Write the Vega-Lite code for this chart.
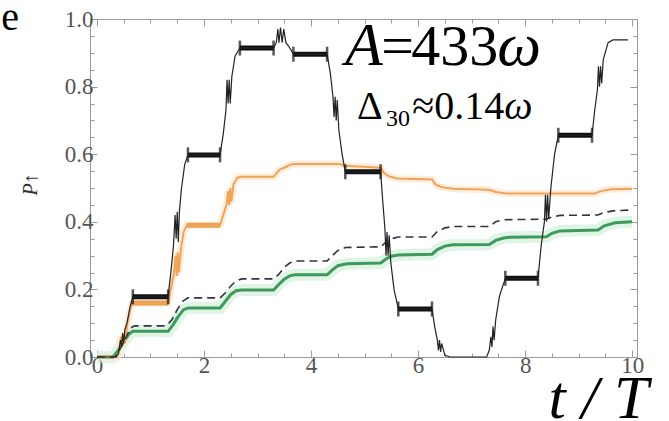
{
  "$schema": "https://vega.github.io/schema/vega-lite/v6.json",
  "width": 547,
  "height": 338,
  "autosize": "none",
  "padding": {"left": 90, "top": 19, "right": 32, "bottom": 64},
  "background": "white",
  "config": {
    "view": {"stroke": "#9a9a9a", "strokeWidth": 1},
    "text": {"font": "Liberation Serif"},
    "axis": {"labelFont": "Liberation Serif", "labelFontSize": 23, "labelColor": "#555", "domain": false, "grid": false, "tickColor": "#9a9a9a", "tickWidth": 1, "titleFont": "Liberation Serif"}
  },
  "datasets": {
    "black": [
      {"t": 0, "p": 0}, {"t": 0.35, "p": 0}, {"t": 0.4, "p": 0.01}, {"t": 0.44, "p": 0.05}, {"t": 0.46, "p": 0.03}, {"t": 0.48, "p": 0.07}, {"t": 0.5, "p": 0.04}, {"t": 0.52, "p": 0.08}, {"t": 0.56, "p": 0.1}, {"t": 0.62, "p": 0.15}, {"t": 0.67, "p": 0.178},
      {"t": 1.33, "p": 0.178}, {"t": 1.38, "p": 0.25}, {"t": 1.43, "p": 0.33}, {"t": 1.46, "p": 0.42}, {"t": 1.48, "p": 0.35}, {"t": 1.5, "p": 0.43}, {"t": 1.52, "p": 0.34}, {"t": 1.54, "p": 0.43}, {"t": 1.58, "p": 0.5}, {"t": 1.64, "p": 0.57}, {"t": 1.7, "p": 0.598},
      {"t": 2.3, "p": 0.598}, {"t": 2.36, "p": 0.66}, {"t": 2.41, "p": 0.73}, {"t": 2.43, "p": 0.82}, {"t": 2.45, "p": 0.75}, {"t": 2.47, "p": 0.82}, {"t": 2.49, "p": 0.75}, {"t": 2.52, "p": 0.83}, {"t": 2.58, "p": 0.89}, {"t": 2.67, "p": 0.914},
      {"t": 3.3, "p": 0.914}, {"t": 3.35, "p": 0.93}, {"t": 3.38, "p": 0.97}, {"t": 3.4, "p": 0.93}, {"t": 3.43, "p": 0.975}, {"t": 3.46, "p": 0.93}, {"t": 3.49, "p": 0.97}, {"t": 3.53, "p": 0.93}, {"t": 3.58, "p": 0.92}, {"t": 3.67, "p": 0.896},
      {"t": 4.3, "p": 0.896}, {"t": 4.36, "p": 0.84}, {"t": 4.41, "p": 0.77}, {"t": 4.43, "p": 0.71}, {"t": 4.45, "p": 0.77}, {"t": 4.47, "p": 0.7}, {"t": 4.49, "p": 0.76}, {"t": 4.52, "p": 0.67}, {"t": 4.58, "p": 0.6}, {"t": 4.64, "p": 0.548},
      {"t": 5.3, "p": 0.548}, {"t": 5.34, "p": 0.46}, {"t": 5.38, "p": 0.38}, {"t": 5.4, "p": 0.3}, {"t": 5.42, "p": 0.37}, {"t": 5.44, "p": 0.3}, {"t": 5.46, "p": 0.36}, {"t": 5.49, "p": 0.28}, {"t": 5.55, "p": 0.2}, {"t": 5.63, "p": 0.142},
      {"t": 6.26, "p": 0.142}, {"t": 6.31, "p": 0.09}, {"t": 6.36, "p": 0.05}, {"t": 6.38, "p": 0.02}, {"t": 6.4, "p": 0.05}, {"t": 6.42, "p": 0.015}, {"t": 6.44, "p": 0.04}, {"t": 6.5, "p": 0.005}, {"t": 6.6, "p": 0},
      {"t": 7.28, "p": 0}, {"t": 7.33, "p": 0.02}, {"t": 7.36, "p": 0.06}, {"t": 7.38, "p": 0.03}, {"t": 7.4, "p": 0.09}, {"t": 7.42, "p": 0.05}, {"t": 7.45, "p": 0.11}, {"t": 7.52, "p": 0.18}, {"t": 7.63, "p": 0.233},
      {"t": 8.24, "p": 0.233}, {"t": 8.3, "p": 0.33}, {"t": 8.36, "p": 0.4}, {"t": 8.38, "p": 0.48}, {"t": 8.4, "p": 0.4}, {"t": 8.42, "p": 0.48}, {"t": 8.44, "p": 0.41}, {"t": 8.48, "p": 0.5}, {"t": 8.55, "p": 0.6}, {"t": 8.62, "p": 0.656},
      {"t": 9.25, "p": 0.656}, {"t": 9.3, "p": 0.73}, {"t": 9.35, "p": 0.79}, {"t": 9.37, "p": 0.86}, {"t": 9.39, "p": 0.8}, {"t": 9.41, "p": 0.86}, {"t": 9.43, "p": 0.81}, {"t": 9.46, "p": 0.88}, {"t": 9.55, "p": 0.93}, {"t": 9.64, "p": 0.938}, {"t": 9.92, "p": 0.938}
    ],
    "blackPlateaus": [
      {"t1": 0.67, "t2": 1.33, "p": 0.178}, {"t1": 1.7, "t2": 2.3, "p": 0.598}, {"t1": 2.67, "t2": 3.3, "p": 0.914}, {"t1": 3.67, "t2": 4.3, "p": 0.896}, {"t1": 4.64, "t2": 5.3, "p": 0.548}, {"t1": 5.63, "t2": 6.26, "p": 0.142}, {"t1": 7.63, "t2": 8.24, "p": 0.233}, {"t1": 8.62, "t2": 9.25, "p": 0.656}
    ],
    "orangePlateaus": [
      {"t1": 0.67, "t2": 1.33, "p": 0.16}, {"t1": 1.68, "t2": 2.3, "p": 0.39}
    ],
    "orange": [
      {"t": 0, "p": 0}, {"t": 0.38, "p": 0}, {"t": 0.42, "p": 0.02}, {"t": 0.45, "p": 0.06}, {"t": 0.47, "p": 0.03}, {"t": 0.5, "p": 0.07}, {"t": 0.52, "p": 0.04}, {"t": 0.56, "p": 0.09}, {"t": 0.62, "p": 0.14}, {"t": 0.67, "p": 0.16},
      {"t": 1.33, "p": 0.16}, {"t": 1.38, "p": 0.2}, {"t": 1.44, "p": 0.25}, {"t": 1.47, "p": 0.3}, {"t": 1.49, "p": 0.24}, {"t": 1.51, "p": 0.31}, {"t": 1.53, "p": 0.25}, {"t": 1.57, "p": 0.32}, {"t": 1.62, "p": 0.37}, {"t": 1.68, "p": 0.39},
      {"t": 2.3, "p": 0.39}, {"t": 2.36, "p": 0.42}, {"t": 2.42, "p": 0.45}, {"t": 2.45, "p": 0.49}, {"t": 2.47, "p": 0.45}, {"t": 2.49, "p": 0.5}, {"t": 2.51, "p": 0.46}, {"t": 2.55, "p": 0.51}, {"t": 2.62, "p": 0.53}, {"t": 2.67, "p": 0.533},
      {"t": 3.3, "p": 0.533}, {"t": 3.36, "p": 0.545}, {"t": 3.42, "p": 0.555}, {"t": 3.5, "p": 0.56}, {"t": 3.6, "p": 0.568}, {"t": 3.67, "p": 0.571},
      {"t": 4.54, "p": 0.571}, {"t": 4.62, "p": 0.566}, {"t": 5.3, "p": 0.56}, {"t": 5.36, "p": 0.545}, {"t": 5.45, "p": 0.535}, {"t": 5.6, "p": 0.528},
      {"t": 6.26, "p": 0.525}, {"t": 6.33, "p": 0.51}, {"t": 6.45, "p": 0.502}, {"t": 6.65, "p": 0.498}, {"t": 7.33, "p": 0.495}, {"t": 7.45, "p": 0.488}, {"t": 7.65, "p": 0.484},
      {"t": 9.3, "p": 0.484}, {"t": 9.4, "p": 0.49}, {"t": 9.6, "p": 0.496}, {"t": 10.0, "p": 0.498}
    ],
    "dashed": [
      {"t": 0, "p": 0}, {"t": 0.35, "p": 0}, {"t": 0.45, "p": 0.03}, {"t": 0.55, "p": 0.06}, {"t": 0.62, "p": 0.085}, {"t": 0.7, "p": 0.092},
      {"t": 1.3, "p": 0.092}, {"t": 1.4, "p": 0.11}, {"t": 1.5, "p": 0.14}, {"t": 1.6, "p": 0.165}, {"t": 1.7, "p": 0.175},
      {"t": 2.3, "p": 0.175}, {"t": 2.4, "p": 0.19}, {"t": 2.5, "p": 0.21}, {"t": 2.6, "p": 0.225}, {"t": 2.7, "p": 0.231},
      {"t": 3.3, "p": 0.231}, {"t": 3.4, "p": 0.245}, {"t": 3.5, "p": 0.265}, {"t": 3.6, "p": 0.278}, {"t": 3.7, "p": 0.284},
      {"t": 4.3, "p": 0.284}, {"t": 4.4, "p": 0.3}, {"t": 4.5, "p": 0.315}, {"t": 4.64, "p": 0.324},
      {"t": 5.3, "p": 0.326}, {"t": 5.4, "p": 0.34}, {"t": 5.5, "p": 0.35}, {"t": 5.63, "p": 0.355},
      {"t": 6.26, "p": 0.355}, {"t": 6.35, "p": 0.37}, {"t": 6.5, "p": 0.382}, {"t": 6.65, "p": 0.386},
      {"t": 7.33, "p": 0.386}, {"t": 7.45, "p": 0.4}, {"t": 7.6, "p": 0.406}, {"t": 8.4, "p": 0.408},
      {"t": 8.5, "p": 0.414}, {"t": 8.65, "p": 0.419}, {"t": 9.36, "p": 0.42}, {"t": 9.48, "p": 0.428}, {"t": 9.68, "p": 0.433}, {"t": 10.0, "p": 0.435}
    ],
    "green": [
      {"t": 0, "p": 0}, {"t": 0.3, "p": 0}, {"t": 0.4, "p": 0.02}, {"t": 0.5, "p": 0.045}, {"t": 0.6, "p": 0.068}, {"t": 0.67, "p": 0.076},
      {"t": 1.33, "p": 0.076}, {"t": 1.42, "p": 0.095}, {"t": 1.52, "p": 0.12}, {"t": 1.62, "p": 0.14}, {"t": 1.7, "p": 0.145},
      {"t": 2.3, "p": 0.145}, {"t": 2.4, "p": 0.165}, {"t": 2.5, "p": 0.185}, {"t": 2.6, "p": 0.196}, {"t": 2.7, "p": 0.198},
      {"t": 3.3, "p": 0.198}, {"t": 3.4, "p": 0.215}, {"t": 3.5, "p": 0.23}, {"t": 3.6, "p": 0.24}, {"t": 3.7, "p": 0.243},
      {"t": 4.3, "p": 0.243}, {"t": 4.4, "p": 0.258}, {"t": 4.5, "p": 0.27}, {"t": 4.67, "p": 0.276},
      {"t": 5.3, "p": 0.278}, {"t": 5.4, "p": 0.29}, {"t": 5.5, "p": 0.298}, {"t": 5.63, "p": 0.302},
      {"t": 6.26, "p": 0.304}, {"t": 6.36, "p": 0.318}, {"t": 6.5, "p": 0.328}, {"t": 6.65, "p": 0.332},
      {"t": 7.33, "p": 0.333}, {"t": 7.45, "p": 0.345}, {"t": 7.6, "p": 0.352}, {"t": 7.7, "p": 0.354},
      {"t": 8.4, "p": 0.356}, {"t": 8.5, "p": 0.366}, {"t": 8.65, "p": 0.373}, {"t": 9.36, "p": 0.376}, {"t": 9.48, "p": 0.388}, {"t": 9.68, "p": 0.397}, {"t": 10.0, "p": 0.4}
    ]
  },
  "resolve": {"axis": {"x": "independent", "y": "independent"}},
  "layer": [
    {
      "data": {"name": "green"},
      "mark": {"type": "line", "color": "#cdeed6", "strokeWidth": 12, "opacity": 0.6},
      "encoding": {
        "x": {"field": "t", "type": "quantitative", "scale": {"domain": [-0.13, 10.09], "nice": false, "zero": false},
          "axis": {"orient": "top", "values": [0,0.5,1,1.5,2,2.5,3,3.5,4,4.5,5,5.5,6,6.5,7,7.5,8,8.5,9,9.5,10], "labels": false, "title": null,
            "tickSize": {"condition": {"test": "datum.value % 2 == 0", "value": -7}, "value": -4}}},
        "y": {"field": "p", "type": "quantitative", "scale": {"domain": [0, 1], "nice": false, "zero": false},
          "axis": {"orient": "right", "values": [0,0.05,0.1,0.15,0.2,0.25,0.3,0.35,0.4,0.45,0.5,0.55,0.6,0.65,0.7,0.75,0.8,0.85,0.9,0.95,1], "labels": false, "title": null,
            "tickSize": {"condition": {"test": "abs(datum.value*5 - round(datum.value*5)) < 0.001", "value": -7}, "value": -4}}}
      }
    },
    {
      "data": {"name": "orange"},
      "mark": {"type": "line", "color": "#fde6cf", "strokeWidth": 7, "opacity": 0.7},
      "encoding": {"x": {"field": "t", "type": "quantitative", "axis": null}, "y": {"field": "p", "type": "quantitative", "axis": null}}
    },
    {
      "data": {"name": "green"},
      "mark": {"type": "line", "color": "#3d9a5c", "strokeWidth": 3},
      "encoding": {"x": {"field": "t", "type": "quantitative", "axis": null}, "y": {"field": "p", "type": "quantitative", "axis": null}}
    },
    {
      "data": {"name": "orangePlateaus"},
      "mark": {"type": "rule", "color": "#e8953e", "strokeWidth": 5, "opacity": 0.9},
      "encoding": {"x": {"field": "t1", "type": "quantitative", "axis": null}, "x2": {"field": "t2"}, "y": {"field": "p", "type": "quantitative", "axis": null}}
    },
    {
      "data": {"name": "orange"},
      "mark": {"type": "line", "color": "#f0a458", "strokeWidth": 2},
      "encoding": {"x": {"field": "t", "type": "quantitative", "axis": null}, "y": {"field": "p", "type": "quantitative", "axis": null}}
    },
    {
      "data": {"name": "dashed"},
      "mark": {"type": "line", "color": "#333344", "strokeWidth": 1.6, "strokeDash": [8, 5]},
      "encoding": {"x": {"field": "t", "type": "quantitative", "axis": null}, "y": {"field": "p", "type": "quantitative", "axis": null}}
    },
    {
      "data": {"name": "blackPlateaus"},
      "mark": {"type": "rule", "color": "#111", "strokeWidth": 5},
      "encoding": {"x": {"field": "t1", "type": "quantitative", "axis": null}, "x2": {"field": "t2"}, "y": {"field": "p", "type": "quantitative", "axis": null}}
    },
    {
      "data": {"name": "blackPlateaus"},
      "mark": {"type": "tick", "orient": "vertical", "color": "#111", "size": 15, "thickness": 2.5},
      "encoding": {"x": {"field": "t1", "type": "quantitative", "axis": null}, "y": {"field": "p", "type": "quantitative", "axis": null}}
    },
    {
      "data": {"name": "blackPlateaus"},
      "mark": {"type": "tick", "orient": "vertical", "color": "#111", "size": 15, "thickness": 2.5},
      "encoding": {"x": {"field": "t2", "type": "quantitative", "axis": null}, "y": {"field": "p", "type": "quantitative", "axis": null}}
    },
    {
      "data": {"name": "black"},
      "mark": {"type": "line", "color": "#222", "strokeWidth": 1.2},
      "encoding": {
        "x": {"field": "t", "type": "quantitative",
          "axis": {"orient": "bottom", "values": [0,0.5,1,1.5,2,2.5,3,3.5,4,4.5,5,5.5,6,6.5,7,7.5,8,8.5,9,9.5,10],
            "labelExpr": "datum.value % 2 == 0 ? format(datum.value, 'd') : ''", "labelPadding": 4,
            "tickSize": {"condition": {"test": "datum.value % 2 == 0", "value": -7}, "value": -4},
            "title": "t / T", "titleFontSize": 62, "titleFontStyle": "italic", "titleFontWeight": "normal", "titleColor": "#000",
            "titleAlign": "left", "titleBaseline": "alphabetic", "titleX": 458, "titleY": 60}},
        "y": {"field": "p", "type": "quantitative",
          "axis": {"orient": "left", "values": [0,0.05,0.1,0.15,0.2,0.25,0.3,0.35,0.4,0.45,0.5,0.55,0.6,0.65,0.7,0.75,0.8,0.85,0.9,0.95,1],
            "labelExpr": "abs(datum.value*5 - round(datum.value*5)) < 0.001 ? format(datum.value, '.1f') : ''", "labelPadding": 4,
            "tickSize": {"condition": {"test": "abs(datum.value*5 - round(datum.value*5)) < 0.001", "value": -7}, "value": -4},
            "title": "P↑", "titleFontSize": 20, "titleFontStyle": "italic", "titleFontWeight": "normal", "titleColor": "#333",
            "titleAngle": -90, "titleAlign": "center", "titleBaseline": "middle", "titleX": -60, "titleY": 165}}
      }
    },
    {
      "data": {"values": [{"t": -1.79, "p": 0.967, "label": "e"}]},
      "mark": {"type": "text", "fontSize": 40, "align": "left", "baseline": "alphabetic", "color": "#000"},
      "encoding": {"x": {"field": "t", "type": "quantitative", "axis": null}, "y": {"field": "p", "type": "quantitative", "axis": null}, "text": {"field": "label"}}
    },
    {
      "data": {"values": [{"t": 4.636, "p": 0.864, "label": "A"}, {"t": 7.48, "p": 0.864, "label": "ω"}]},
      "mark": {"type": "text", "fontSize": 62, "fontStyle": "italic", "align": "left", "baseline": "alphabetic", "color": "#000"},
      "encoding": {"x": {"field": "t", "type": "quantitative", "axis": null}, "y": {"field": "p", "type": "quantitative", "axis": null}, "text": {"field": "label"}}
    },
    {
      "data": {"values": [{"t": 5.31, "p": 0.864, "label": "="}, {"t": 5.87, "p": 0.864, "label": "433"}]},
      "mark": {"type": "text", "fontSize": 58, "align": "left", "baseline": "alphabetic", "color": "#000"},
      "encoding": {"x": {"field": "t", "type": "quantitative", "axis": null}, "y": {"field": "p", "type": "quantitative", "axis": null}, "text": {"field": "label"}}
    },
    {
      "data": {"values": [{"t": 4.86, "p": 0.704, "label": "Δ"}, {"t": 5.89, "p": 0.704, "label": "≈0.14"}]},
      "mark": {"type": "text", "fontSize": 40, "align": "left", "baseline": "alphabetic", "color": "#000"},
      "encoding": {"x": {"field": "t", "type": "quantitative", "axis": null}, "y": {"field": "p", "type": "quantitative", "axis": null}, "text": {"field": "label"}}
    },
    {
      "data": {"values": [{"t": 5.4, "p": 0.683, "label": "30"}]},
      "mark": {"type": "text", "fontSize": 24, "align": "left", "baseline": "alphabetic", "color": "#000"},
      "encoding": {"x": {"field": "t", "type": "quantitative", "axis": null}, "y": {"field": "p", "type": "quantitative", "axis": null}, "text": {"field": "label"}}
    },
    {
      "data": {"values": [{"t": 7.61, "p": 0.704, "label": "ω"}]},
      "mark": {"type": "text", "fontSize": 40, "fontStyle": "italic", "align": "left", "baseline": "alphabetic", "color": "#000"},
      "encoding": {"x": {"field": "t", "type": "quantitative", "axis": null}, "y": {"field": "p", "type": "quantitative", "axis": null}, "text": {"field": "label"}}
    }
  ]
}
